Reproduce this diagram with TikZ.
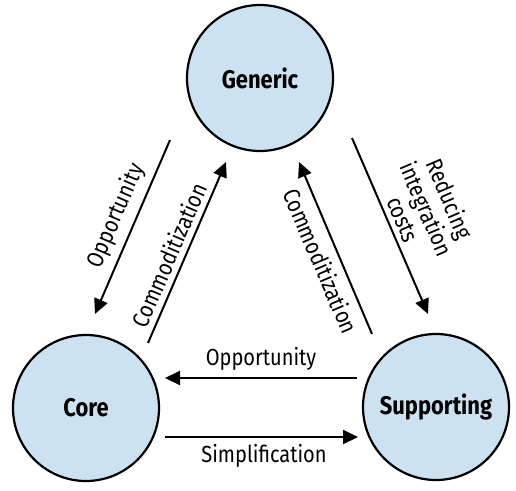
\documentclass[tikz,border=0pt]{standalone}
\usepackage{fontspec}
\setmainfont{Fira Sans}[FakeStretch=0.86]
\usetikzlibrary{arrows.meta}
\definecolor{cfill}{HTML}{CCE2F0}
\begin{document}
\begin{tikzpicture}[x=1pt,y=-1pt,
  dombubble/.style={circle,draw=black,line width=2.2pt,fill=cfill,minimum size=146pt,inner sep=0pt,font=\fontsize{25.5}{28}\selectfont\bfseries},
  flow/.style={line width=2pt,-{Triangle[length=15pt,width=14pt]}},
  lbl/.style={font=\fontsize{23.3}{25}\selectfont,inner sep=0pt}]
\useasboundingbox (0,0) rectangle (516,490);
\node[dombubble] (gen) at (260,78) {Generic};
\node[dombubble] (core) at (86,408) {Core};
\node[dombubble] (sup) at (436,407) {Supporting};
% bottom
\coordinate (bo1) at (357,378);
\coordinate (bo2) at (165,378);
\coordinate (bs1) at (165,437);
\coordinate (bs2) at (358,437);
\draw[flow] (bo1) -- (bo2);
\draw[flow] (bs1) -- (bs2);
\node[lbl] (lopp) at (261,359) {Opportunity};
\node[lbl] (lsim) at (264,456) {Simplification};
% left
\coordinate (lo1) at (170,140);
\coordinate (lo2) at (95,314);
\coordinate (lc1) at (148,343);
\coordinate (lc2) at (226,162);
\draw[flow] (lo1) -- (lo2);
\draw[flow] (lc1) -- (lc2);
\node[lbl,rotate=66.7] (lopp2) at (116,216) {Opportunity};
\node[lbl,rotate=66.7] (lcom) at (169,255) {Commoditization};
% right
\coordinate (rr1) at (352,138);
\coordinate (rr2) at (428,314);
\coordinate (rc1) at (372,334);
\coordinate (rc2) at (299,162);
\draw[flow] (rr1) -- (rr2);
\draw[flow] (rc1) -- (rc2);
\node[lbl,rotate=-66.8] (rcom) at (321,261) {Commoditization};
\node[lbl,rotate=-66.8,align=center,font=\fontsize{23.3}{25.5}\selectfont] (rred) at (427,209) {Reducing\\integration\\costs};
\end{tikzpicture}
\end{document}
